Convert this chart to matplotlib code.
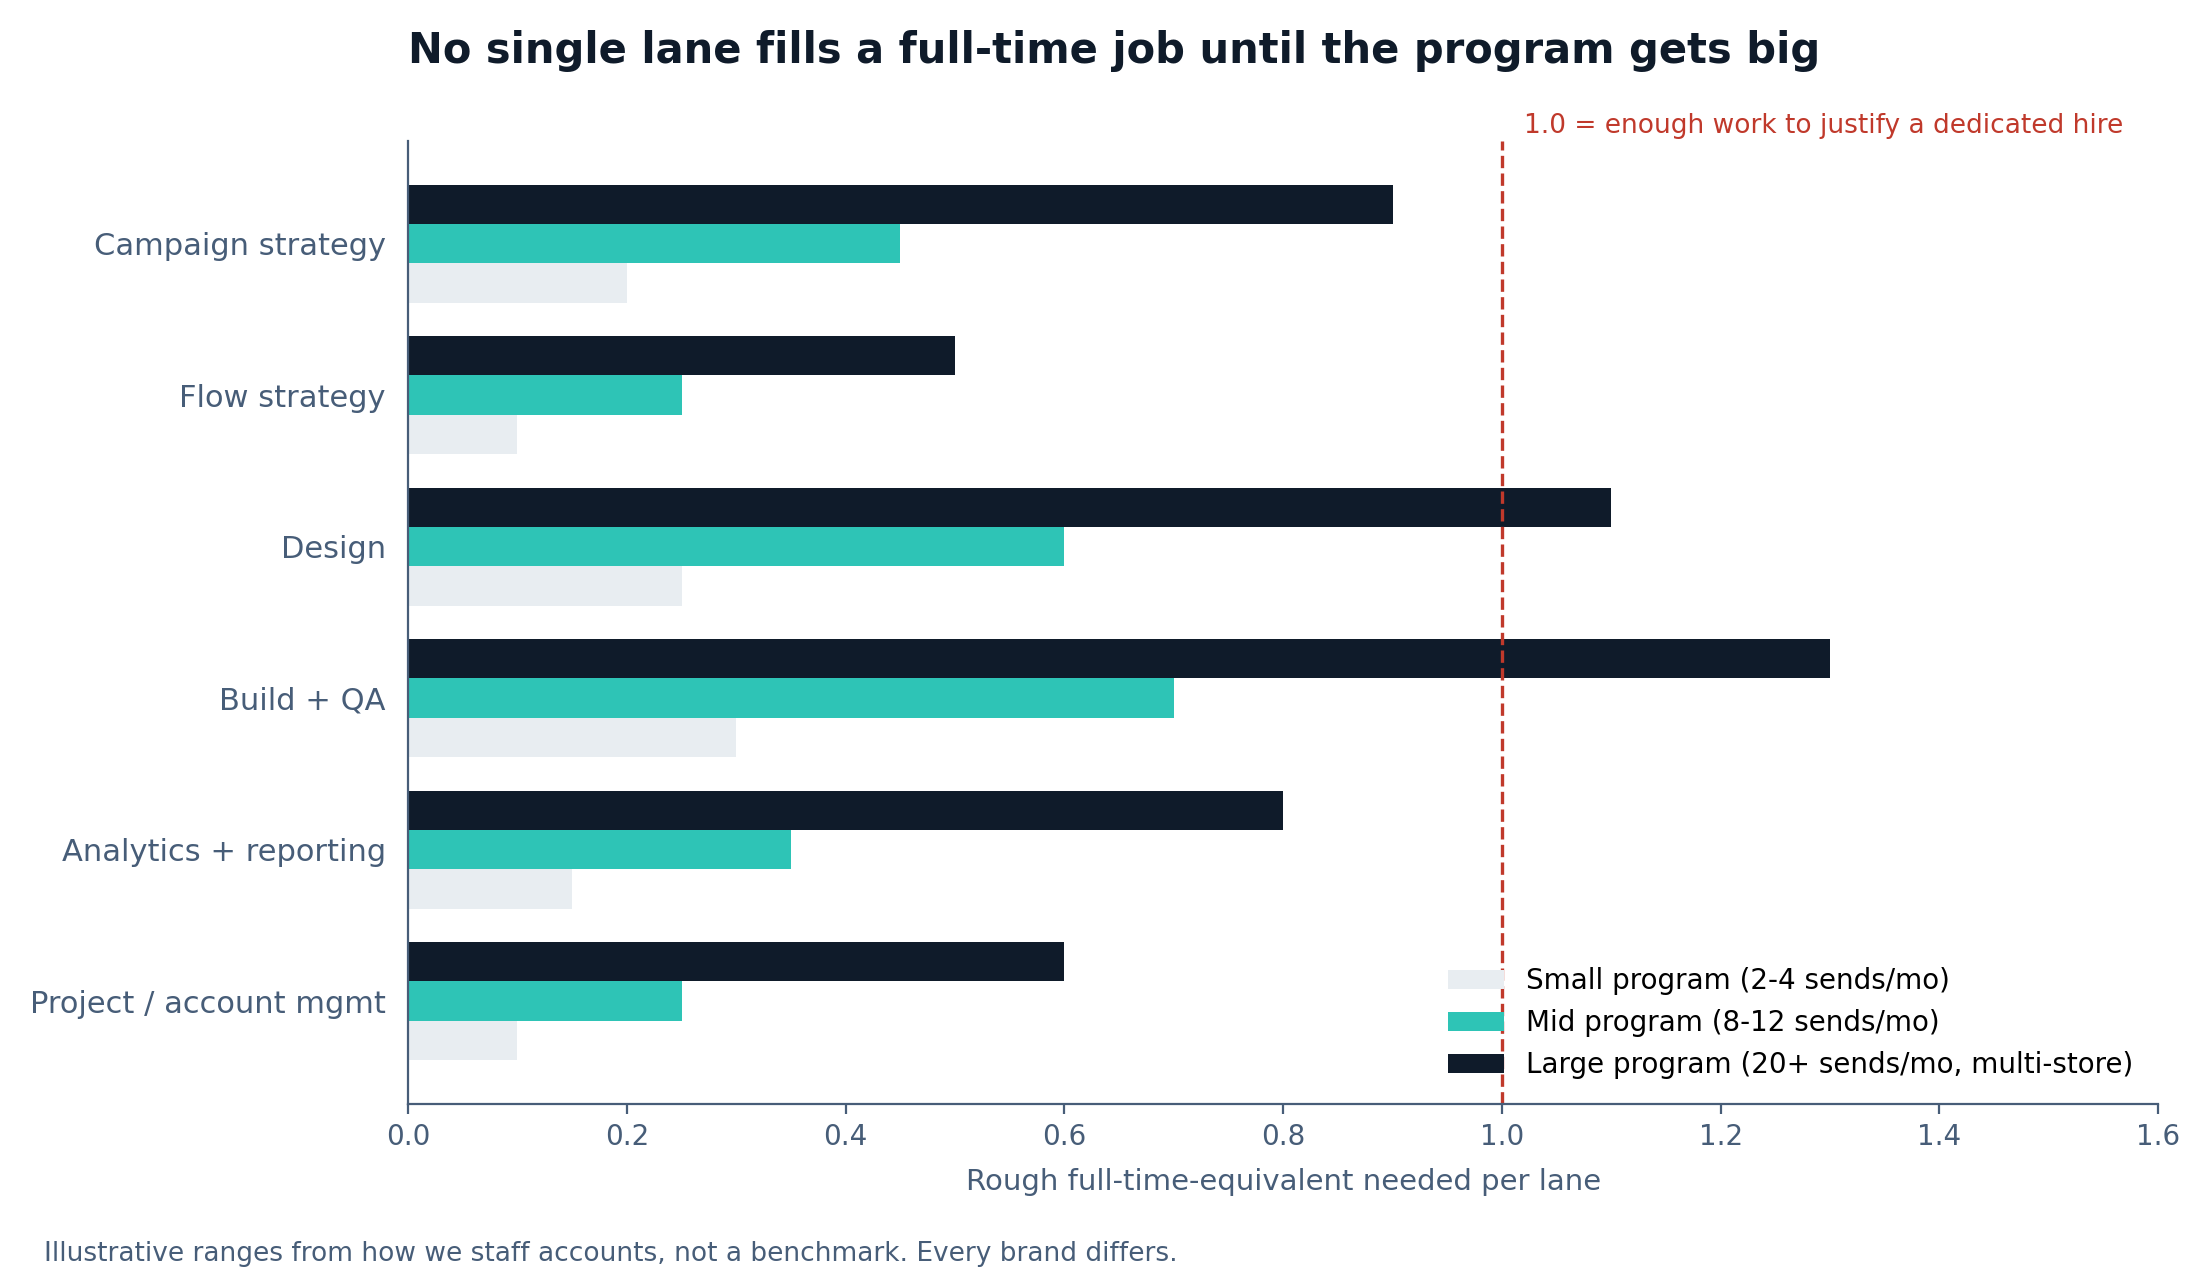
import numpy as np
import matplotlib
matplotlib.use("Agg")
import matplotlib.pyplot as plt

# lanes and rough FTE per program size
lanes = ["Campaign strategy", "Flow strategy", "Design", "Build + QA",
         "Analytics + reporting", "Project / account mgmt"]
small = [0.2, 0.1, 0.25, 0.3, 0.15, 0.1]
mid = [0.45, 0.25, 0.6, 0.7, 0.35, 0.25]
large = [0.9, 0.5, 1.1, 1.3, 0.8, 0.6]
series_labels = ["Small program (2-4 sends/mo)",
                 "Mid program (8-12 sends/mo)",
                 "Large program (20+ sends/mo, multi-store)"]
xticks = [0.0, 0.2, 0.4, 0.6, 0.8, 1.0, 1.2, 1.4, 1.6]

navy = "#0f1b2a"
teal = "#2ec4b6"
light = "#e8edf1"
slate = "#475d78"
red = "#c0392b"

fig = plt.figure(figsize=(11, 6.4), dpi=200)
ax = fig.add_axes([0.1855, 0.1375, 0.7955, 0.7525])

h = 0.26
pos = np.arange(len(lanes))[::-1]
ax.barh(pos - h, small, height=h, color=light, label=series_labels[0])
ax.barh(pos, mid, height=h, color=teal, label=series_labels[1])
ax.barh(pos + h, large, height=h, color=navy, label=series_labels[2])

ax.axvline(1.0, color=red, linestyle="--", linewidth=1.2)
ax.text(1.02, 1.015, "1.0 = enough work to justify a dedicated hire",
        transform=ax.get_xaxis_transform(), color=red, fontsize=9.5,
        ha="left", va="center")

ax.set_yticks(pos)
ax.set_yticklabels(lanes, fontsize=11, color=slate)
ax.tick_params(axis="y", length=0, pad=8)
ax.set_xlim(0, 1.6)
ax.set_xticks(xticks)
ax.set_xticklabels([f"{v:.1f}" for v in xticks], fontsize=10, color=slate)
ax.tick_params(axis="x", colors=slate)
ax.set_xlabel("Rough full-time-equivalent needed per lane", fontsize=10.5,
              color=slate, labelpad=6)

for s in ["top", "right"]:
    ax.spines[s].set_visible(False)
for s in ["left", "bottom"]:
    ax.spines[s].set_color(slate)

ax.legend(loc="lower right", frameon=False, fontsize=10)

fig.text(0.1855, 0.96, "No single lane fills a full-time job until the program gets big",
         fontsize=15, fontweight="bold", color=navy, ha="left", va="center")
fig.text(0.02, 0.02, "Illustrative ranges from how we staff accounts, not a benchmark. Every brand differs.",
         fontsize=9.5, color=slate, ha="left", va="center")

fig.savefig("out.png", dpi=200)
